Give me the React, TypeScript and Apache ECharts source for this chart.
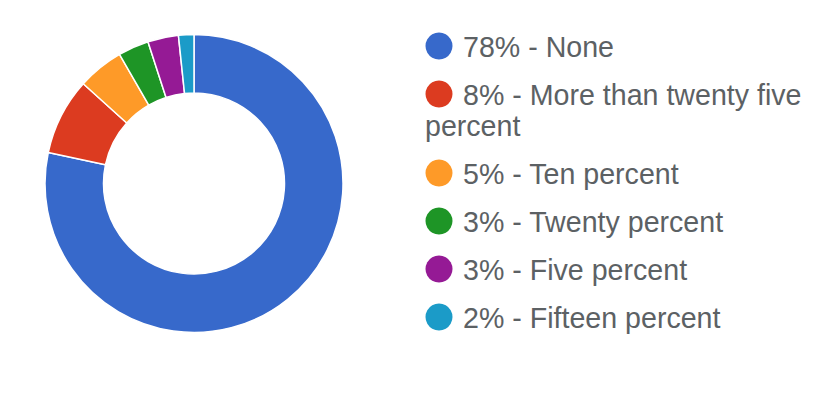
import React, { useEffect, useRef } from "react";
import * as echarts from "echarts";

const categories = [
  "None",
  "More than twenty five percent",
  "Ten percent",
  "Twenty percent",
  "Five percent",
  "Fifteen percent",
];
const counts = [47, 5, 3, 2, 2, 1];
const colors = ["#3769cb", "#dc3b20", "#fe9a28", "#1e9526", "#951a95", "#1b9bc8"];

const FONT_FAMILY = '"Liberation Sans", Arial, Helvetica, sans-serif';
const FONT_SIZE = 28.6;
const TEXT_COLOR = "#5c6164";

function wrapText(text: string, firstWidth: number, restWidth: number): string[] {
  const canvas = document.createElement("canvas");
  const ctx = canvas.getContext("2d")!;
  ctx.font = `${FONT_SIZE}px ${FONT_FAMILY}`;
  const words = text.split(" ");
  const lines: string[] = [];
  let cur = "";
  for (const w of words) {
    const trial = cur ? cur + " " + w : w;
    const limit = lines.length === 0 ? firstWidth : restWidth;
    if (cur && ctx.measureText(trial).width > limit) {
      lines.push(cur);
      cur = w;
    } else {
      cur = trial;
    }
  }
  if (cur) lines.push(cur);
  return lines;
}

export default function App() {
  const ref = useRef<HTMLDivElement>(null);

  useEffect(() => {
    document.body.style.margin = "0";
    if (!ref.current) return;
    const chart = echarts.init(ref.current, undefined, { renderer: "svg" });
    const total = counts.reduce((a, b) => a + b, 0);

    const graphics: any[] = [];
    let y = 46;
    categories.forEach((name, i) => {
      const pct = Math.round((counts[i] / total) * 100);
      const label = `${pct}% - ${name}`;
      const lines = wrapText(label, 355, 398);
      graphics.push({
        type: "circle",
        shape: { cx: 439, cy: y, r: 13.5 },
        style: { fill: colors[i] },
        silent: true,
      });
      lines.forEach((ln, k) => {
        graphics.push({
          type: "text",
          x: k === 0 ? 463 : 425,
          y: y + k * 31 + 1,
          style: {
            text: ln,
            fontSize: FONT_SIZE,
            fontFamily: FONT_FAMILY,
            fill: TEXT_COLOR,
            verticalAlign: "middle",
            align: "left",
          },
          silent: true,
        });
      });
      y += 48 + (lines.length - 1) * 31;
    });

    chart.setOption({
      animation: false,
      backgroundColor: "#ffffff",
      color: colors,
      series: [
        {
          type: "pie",
          center: [194, 183.5],
          radius: [90.5, 149],
          startAngle: 90,
          clockwise: true,
          avoidLabelOverlap: false,
          label: { show: false },
          labelLine: { show: false },
          silent: true,
          itemStyle: { borderColor: "#ffffff", borderWidth: 1.5 },
          data: categories.map((name, i) => ({ name, value: counts[i] })),
        },
      ],
      graphic: graphics,
    });

    return () => chart.dispose();
  }, []);

  return (
    <div
      ref={ref}
      style={{ position: "absolute", left: 0, top: 0, width: 834, height: 394 }}
    />
  );
}
